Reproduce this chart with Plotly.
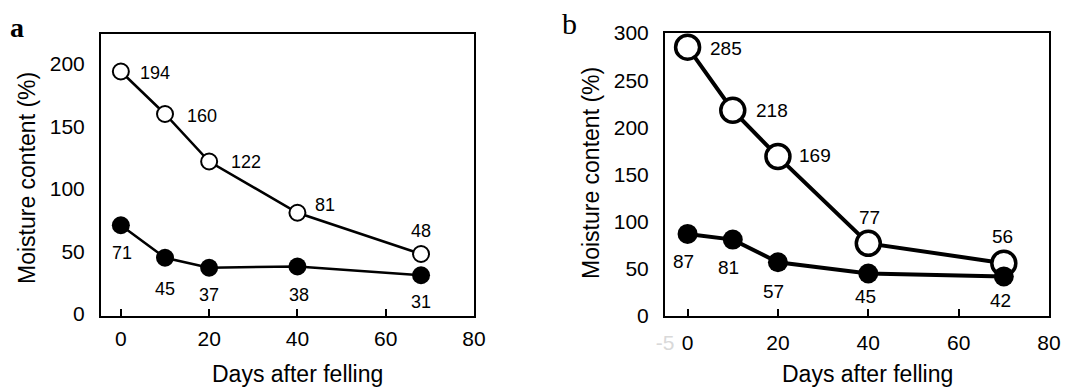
import plotly.graph_objects as go

# ---------------- data ----------------
days_a = [0, 10, 20, 40, 68]
open_a = [194, 160, 122, 81, 48]
filled_a = [71, 45, 37, 38, 31]

days_b = [0, 10, 20, 40, 70]
open_b = [285, 218, 169, 77, 56]
filled_b = [87, 81, 57, 45, 42]

xticks_a = [0, 20, 40, 60, 80]
yticks_a = [0, 50, 100, 150, 200]
xticks_b = [-5, 0, 20, 40, 60, 80]
yticks_b = [0, 50, 100, 150, 200, 250, 300]

# label offsets in pixels (dx, dy screen-down, anchor)
off_open_a = [(17, 1, "left"), (20, 2, "left"), (20, 0, "left"), (16, -8, "left"), (0, -23, "center")]
off_fill_a = [(1, 28, "center"), (0, 31, "center"), (0, 27, "center"), (2, 28, "center"), (0, 27, "center")]
off_open_b = [(20, 1, "left"), (21, 0, "left"), (19, -1, "left"), (1, -26, "center"), (-1, -27, "center")]
off_fill_b = [(-4, 28, "center"), (-4, 28, "center"), (-4, 29, "center"), (-3, 23, "center"), (-3, 24, "center")]

FONT = "Liberation Sans, Arial, sans-serif"

fig = go.Figure()

# panel a
fig.add_trace(go.Scatter(x=days_a, y=open_a, mode="lines+markers", xaxis="x", yaxis="y",
                         line=dict(color="black", width=2.5),
                         marker=dict(symbol="circle", size=16, color="white",
                                     line=dict(color="black", width=2)),
                         showlegend=False, hoverinfo="skip"))
fig.add_trace(go.Scatter(x=days_a, y=filled_a, mode="lines+markers", xaxis="x", yaxis="y",
                         line=dict(color="black", width=2.5),
                         marker=dict(symbol="circle", size=18, color="black"),
                         showlegend=False, hoverinfo="skip"))
# panel b
fig.add_trace(go.Scatter(x=days_b, y=open_b, mode="lines+markers", xaxis="x2", yaxis="y2",
                         line=dict(color="black", width=4),
                         marker=dict(symbol="circle", size=24, color="white",
                                     line=dict(color="black", width=3.5)),
                         showlegend=False, hoverinfo="skip"))
fig.add_trace(go.Scatter(x=days_b, y=filled_b, mode="lines+markers", xaxis="x2", yaxis="y2",
                         line=dict(color="black", width=4),
                         marker=dict(symbol="circle", size=20, color="black"),
                         showlegend=False, hoverinfo="skip"))

annotations = []


def add_labels(xs, ys, offs, xref, yref, size):
    for x, y, (dx, dy, anc) in zip(xs, ys, offs):
        annotations.append(dict(x=x, y=y, xref=xref, yref=yref, text=str(y), showarrow=False,
                                xanchor=anc, yanchor="middle", xshift=dx, yshift=-dy,
                                font=dict(family=FONT, size=size, color="black")))


add_labels(days_a, open_a, off_open_a, "x", "y", 18)
add_labels(days_a, filled_a, off_fill_a, "x", "y", 18)
add_labels(days_b, open_b, off_open_b, "x2", "y2", 19)
add_labels(days_b, filled_b, off_fill_b, "x2", "y2", 19)

W, H = 1081, 387


def px(x):
    return x / W


def py(y):
    return 1 - y / H


# axis titles
annotations += [
    dict(x=px(27), y=py(178), xref="paper", yref="paper", text="Moisture content (%)", textangle=-90,
         showarrow=False, xanchor="center", yanchor="middle", font=dict(family=FONT, size=23, color="black")),
    dict(x=px(591), y=py(173), xref="paper", yref="paper", text="Moisture content (%)", textangle=-90,
         showarrow=False, xanchor="center", yanchor="middle", font=dict(family=FONT, size=23, color="black")),
    dict(x=px(297), y=py(374), xref="paper", yref="paper", text="Days after felling",
         showarrow=False, xanchor="center", yanchor="middle", font=dict(family=FONT, size=23, color="black")),
    dict(x=px(867), y=py(373.5), xref="paper", yref="paper", text="Days after felling",
         showarrow=False, xanchor="center", yanchor="middle", font=dict(family=FONT, size=23, color="black")),
    dict(x=px(17), y=py(27), xref="paper", yref="paper", text="<b>a</b>",
         showarrow=False, xanchor="center", yanchor="middle",
         font=dict(family="Liberation Serif, Times New Roman, serif", size=28, color="black")),
    dict(x=px(569), y=py(23), xref="paper", yref="paper", text="b",
         showarrow=False, xanchor="center", yanchor="middle",
         font=dict(family="Liberation Serif, Times New Roman, serif", size=30, color="black")),
]

xtext_b = ['<span style="color:#d9d9d9">-5</span>'] + [str(v) for v in xticks_b[1:]]

axis_common = dict(showline=True, linecolor="black", linewidth=2, mirror=True, showgrid=False,
                   zeroline=False, automargin=False,
                   tickfont=dict(family=FONT, size=21, color="black"))

fig.update_layout(
    template="none",
    width=W, height=H,
    margin=dict(l=0, r=0, t=0, b=0, pad=0),
    paper_bgcolor="white", plot_bgcolor="white",
    showlegend=False,
    annotations=annotations,
    xaxis=dict(domain=[px(101), px(474)], range=[-4.5, 80], tickmode="array", tickvals=xticks_a,
               ticks="inside", ticklen=7, tickwidth=1.5, tickcolor="black", anchor="y",
               ticklabelstandoff=3, **axis_common),
    yaxis=dict(domain=[py(316), py(34)], range=[-1.6, 224], tickmode="array", tickvals=yticks_a,
               ticks="", anchor="x", ticklabelstandoff=10, **axis_common),
    xaxis2=dict(domain=[px(665), px(1049)], range=[-5, 80], tickmode="array", tickvals=xticks_b,
                ticktext=xtext_b, ticks="inside", ticklen=7, tickwidth=1.5, tickcolor="black",
                anchor="y2", ticklabelstandoff=7, **axis_common),
    yaxis2=dict(domain=[py(316), py(33)], range=[0, 300], tickmode="array", tickvals=yticks_b,
                ticks="", anchor="x2", ticklabelstandoff=10, **axis_common),
)

fig.write_html("out.html")
